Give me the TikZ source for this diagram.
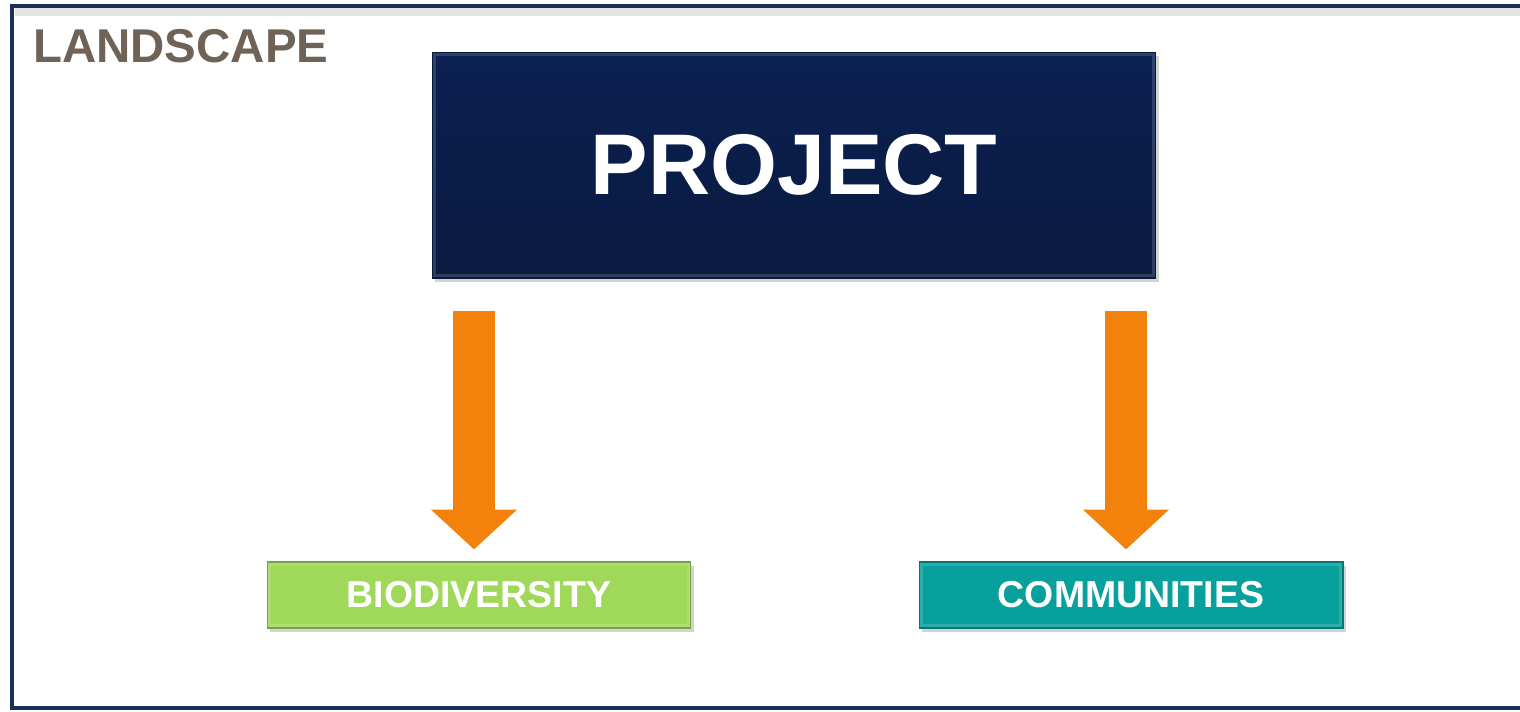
\documentclass[tikz,border=0pt]{standalone}
\usepackage{fontspec}
\setmainfont{Liberation Sans}
\usetikzlibrary{positioning}
\usetikzlibrary{arrows.meta}
\usetikzlibrary{shadows}

\definecolor{frameblue}{HTML}{1B2E55}
\definecolor{navytop}{HTML}{0B2152}
\definecolor{navybot}{HTML}{0A1A40}
\definecolor{flowor}{HTML}{F2820C}
\definecolor{leaf}{HTML}{A0D85A}
\definecolor{teal}{HTML}{07A09C}
\definecolor{taupe}{HTML}{6F6357}

\begin{document}
\begin{tikzpicture}[x=0.02cm, y=-0.02cm,
    box/.style={draw=#1!75!black, line width=0.6pt, inner sep=0pt,
      drop shadow={opacity=0.35, shadow xshift=1.5pt, shadow yshift=-2pt},
      path picture={\draw [white, opacity=0.15, line width=5pt]
        (path picture bounding box.south west) rectangle
        (path picture bounding box.north east);}},
    flow/.style={draw=flowor, line width=0.84cm,
      -{Triangle[width=1.68cm, length=0.8cm]},
      shorten <=0.64cm, shorten >=0.24cm}]
      \useasboundingbox (0,0) rectangle (1520,711);

      % frame
      \draw [gray!22, line width=4pt] (15,12) -- (1530,12);
      \draw [frameblue, line width=2.3pt] (12,6) rectangle (1535,708);

      \node [taupe, anchor=west, font=\fontsize{27}{32}\selectfont\bfseries]
      (land) at (27,46) {LANDSCAPE};

      \node [box=navytop, top color=navytop, bottom color=navybot,
      minimum width=14.48cm, minimum height=4.52cm,
      text=white, font=\fontsize{49}{58}\selectfont\bfseries]
      (project) at (794,165) {PROJECT};

      \node [box=leaf, fill=leaf, minimum width=8.48cm, minimum height=1.32cm,
      text=white, font=\fontsize{21.3}{26}\selectfont\bfseries]
      (bio) at (479,595) {BIODIVERSITY};

      \node [box=teal, fill=teal, minimum width=8.48cm, minimum height=1.32cm,
      text=white, font=\fontsize{21.3}{26}\selectfont\bfseries]
      (comm) at (1131,595) {COMMUNITIES};

      \draw [flow] ([xshift=-0.1cm]project.south -| bio.north)
      -- ([xshift=-0.1cm]bio.north);
      \draw [flow] ([xshift=-0.1cm]project.south -| comm.north)
      -- ([xshift=-0.1cm]comm.north);
\end{tikzpicture}
\end{document}
